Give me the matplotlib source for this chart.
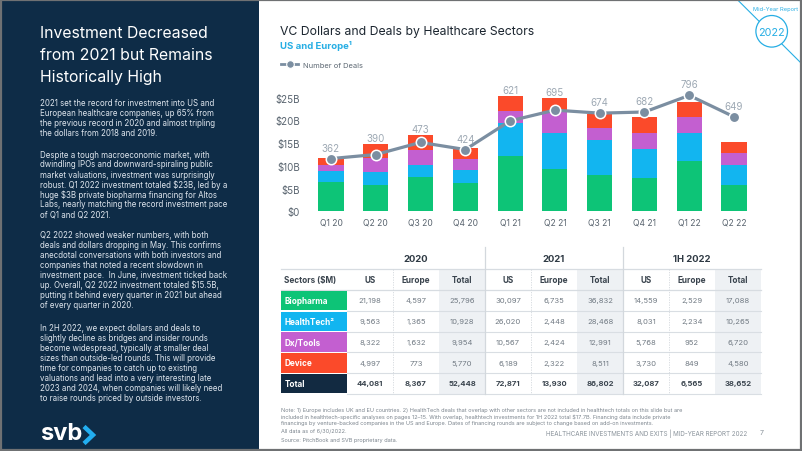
import matplotlib
matplotlib.use("Agg")
import matplotlib.pyplot as plt
from matplotlib.patches import Rectangle, Ellipse
from matplotlib.lines import Line2D

plt.rcParams['font.family'] = ['Inter', 'DejaVu Sans']

# ---------------- data ----------------
quarters = ["Q1 20", "Q2 20", "Q3 20", "Q4 20", "Q1 21", "Q2 21", "Q3 21", "Q4 21", "Q1 22", "Q2 22"]
biopharma = [6.5, 5.8, 7.5, 6.2, 12.2, 9.3, 8.0, 7.3, 11.1, 5.9]
healthtech = [2.4, 2.8, 2.8, 2.8, 7.3, 7.9, 7.6, 6.5, 6.1, 4.2]
dxtools = [1.4, 3.1, 3.2, 2.5, 2.7, 4.6, 2.8, 3.4, 3.6, 2.7]
device = [1.4, 3.1, 3.2, 2.4, 3.1, 3.1, 3.0, 3.5, 3.2, 2.5]
deals = [362, 390, 473, 424, 621, 695, 674, 682, 796, 649]
ytick_vals = [0, 5, 10, 15, 20, 25]
ytick_labels = ["$0", "$5B", "$10B", "$15B", "$20B", "$25B"]

sectors = ["Biopharma", "HealthTech²", "Dx/Tools", "Device", "Total"]
years = ["2020", "2021", "1H 2022"]
col_heads = ["US", "Europe", "Total"]
us_2020 = [21198, 9563, 8322, 4997, 44081]
eu_2020 = [4597, 1365, 1632, 773, 8367]
tot_2020 = [25796, 10928, 9954, 5770, 52448]
us_2021 = [30097, 26020, 10567, 6189, 72871]
eu_2021 = [6735, 2448, 2424, 2322, 13930]
tot_2021 = [36832, 28468, 12991, 8511, 86802]
us_1h22 = [14559, 8031, 5768, 3730, 32087]
eu_1h22 = [2529, 2234, 952, 849, 6565]
tot_1h22 = [17088, 10265, 6720, 4580, 38652]

# ---------------- style ----------------
C_BIO = "#0dc477"
C_HT = "#12b5f0"
C_DX = "#c35fd0"
C_DEV = "#fb4a2a"
C_NAVY = "#0e2c47"
C_TOTAL = "#122a41"
C_LINE = "#7b8ea1"
C_BLUE = "#27aee4"

W, H = 802, 452
fig = plt.figure(figsize=(W / 100, H / 100), dpi=100)
fig.patch.set_facecolor("white")


def fx(x):
    return x / W


def fy(y):
    return 1 - y / H


def rect(x0, y0, x1, y1, color, z=0, **kw):
    fig.patches.append(Rectangle((fx(x0), fy(y1)), fx(x1) - fx(x0), (y1 - y0) / H,
                                 transform=fig.transFigure, facecolor=color,
                                 edgecolor="none", zorder=z, **kw))


def hline(x0, x1, y, color, lw=0.6, ls="-", z=2):
    fig.add_artist(Line2D([fx(x0), fx(x1)], [fy(y), fy(y)], transform=fig.transFigure,
                          color=color, lw=lw, ls=ls, zorder=z))


def vline(x, y0, y1, color, lw=0.6, ls="-", z=2):
    fig.add_artist(Line2D([fx(x), fx(x)], [fy(y0), fy(y1)], transform=fig.transFigure,
                          color=color, lw=lw, ls=ls, zorder=z))


def txt(x, y, s, **kw):
    kw.setdefault("va", "center")
    fig.text(fx(x), fy(y), s, **kw)


# ---------------- left panel ----------------
rect(0, 0, 259, 451, C_NAVY, z=0)
for i, line in enumerate(["Investment Decreased", "from 2021 but Remains", "Historically High"]):
    txt(40, 34 + i * 22, line, color="white", fontsize=11.4)

paras = [
    ["2021 set the record for investment into US and",
     "European healthcare companies, up 65% from",
     "the previous record in 2020 and almost tripling",
     "the dollars from 2018 and 2019."],
    ["Despite a tough macroeconomic market, with",
     "dwindling IPOs and downward-spiraling public",
     "market valuations, investment was surprisingly",
     "robust. Q1 2022 investment totaled $23B, led by a",
     "huge $3B private biopharma financing for Altos",
     "Labs, nearly matching the record investment pace",
     "of Q1 and Q2 2021."],
    ["Q2 2022 showed weaker numbers, with both",
     "deals and dollars dropping in May. This confirms",
     "anecdotal conversations with both investors and",
     "companies that noted a recent slowdown in",
     "investment pace.  In June, investment ticked back",
     "up. Overall, Q2 2022 investment totaled $15.5B,",
     "putting it behind every quarter in 2021 but ahead",
     "of every quarter in 2020."],
    ["In 2H 2022, we expect dollars and deals to",
     "slightly decline as bridges and insider rounds",
     "become widespread, typically at smaller deal",
     "sizes than outside-led rounds. This will provide",
     "time for companies to catch up to existing",
     "valuations and lead into a very interesting late",
     "2023 and 2024, when companies will likely need",
     "to raise rounds priced by outside investors."],
]
para_starts = [103.5, 155, 235.7, 328.3]
for start, lines in zip(para_starts, paras):
    for j, line in enumerate(lines):
        txt(40.5, start + j * 10, line, color="#dfe6ee", fontsize=5.7)

txt(40, 434, "svb", color="white", fontsize=17, fontweight="bold")
fig.add_artist(Line2D([fx(84), fx(93), fx(84)], [fy(427.5), fy(436), fy(444.5)],
                      transform=fig.transFigure, color="#22aef0", lw=3.2,
                      solid_joinstyle="miter", solid_capstyle="butt", zorder=3))

# ---------------- badge ----------------
fig.add_artist(Line2D([fx(736.7), fx(802)], [fy(0), fy(65)], transform=fig.transFigure,
                      color=C_BLUE, lw=0.8, zorder=3))
fig.add_artist(Ellipse((fx(771.7), fy(32.3)), 31.6 / W, 31.6 / H, transform=fig.transFigure,
                       facecolor="white", edgecolor=C_BLUE, lw=0.9, zorder=4))
txt(771.7, 32.8, "2022", color=C_BLUE, fontsize=7.8, ha="center", zorder=5)
txt(776, 9.3, "Mid-Year Report", color=C_BLUE, fontsize=4.1, ha="center", zorder=5)

# ---------------- chart titles ----------------
txt(280.5, 32.5, "VC Dollars and Deals by Healthcare Sectors", color="#1c2630", fontsize=8.8)
txt(280.5, 46, "US and Europe¹", color=C_BLUE, fontsize=6.9, fontweight="bold")
fig.add_artist(Line2D([fx(281), fx(298)], [fy(65.3), fy(65.3)], transform=fig.transFigure,
                      color=C_LINE, lw=2.0, zorder=3))
fig.add_artist(Line2D([fx(289.5)], [fy(65.3)], transform=fig.transFigure, color=C_LINE,
                      marker="o", ms=5.5, mfc=C_LINE, mec="white", mew=0.8, zorder=4))
txt(303, 65.5, "Number of Deals", color="#5d6873", fontsize=5.4)

# ---------------- bar chart ----------------
px_per_b = 4.54
ymax = 27
ax = fig.add_axes([fx(308.6), fy(212.3), fx(756.4) - fx(308.6), ymax * px_per_b / H])
x = list(range(len(quarters)))
bw = 0.56
bottom = [0.0] * len(x)
for vals, col in [(biopharma, C_BIO), (healthtech, C_HT), (dxtools, C_DX), (device, C_DEV)]:
    ax.bar(x, vals, bw, bottom=bottom, color=col, linewidth=0, zorder=2)
    bottom = [b + v for b, v in zip(bottom, vals)]
ax.set_xlim(-0.5, len(x) - 0.5)
ax.set_ylim(0, ymax)
ax.set_yticks(ytick_vals)
ax.set_yticklabels(ytick_labels)
ax.set_xticks(x)
ax.set_xticklabels(quarters)
ax.tick_params(axis="y", length=0, pad=6.2, labelsize=7, labelcolor="#59646f")
ax.tick_params(axis="x", length=0, pad=4.6, labelsize=6.1, labelcolor="#59646f")
for s in ax.spines.values():
    s.set_visible(False)
ax.patch.set_alpha(0)

ratio = 31.18
ax2 = ax.twinx()
ax2.set_ylim(0, ymax * ratio)
ax2.plot(x, deals, color=C_LINE, lw=2.3, marker="o", ms=7.5, mfc=C_LINE, mec="white",
         mew=1.1, zorder=5, solid_capstyle="round")
ax2.axis("off")
for xi, d, tot in zip(x, deals, bottom):
    top = max(tot, d / ratio + 1.0)
    ax2.annotate(str(d), (xi, top * ratio), xytext=(0, 4.6), textcoords="offset points",
                 ha="center", va="center", fontsize=7, color="#9ea9b4")

# ---------------- table ----------------
col_left = 347
cw = 46
row_tops = [291, 312, 332.7, 353.3, 374]
row_h = 20.7
tab_left = 281
tab_right = col_left + 9 * cw
sector_colors = [C_BIO, C_HT, C_DX, C_DEV, C_TOTAL]
period_cols = [(us_2020, eu_2020, tot_2020), (us_2021, eu_2021, tot_2021), (us_1h22, eu_1h22, tot_1h22)]

# total-column shading
for p in range(3):
    x0 = col_left + (p * 3 + 2) * cw
    rect(x0, 270, x0 + cw, 394.7, "#eef1f4", z=1)

# year header
for p, yr in enumerate(years):
    cx = col_left + (p * 3 + 1.5) * cw
    txt(cx, 260, yr, ha="center", fontsize=6.8, fontweight="bold", color="#2f3a44")

hline(tab_left, tab_right, 270, "#d7dce1", lw=0.9)
txt(284.5, 280.7, "Sectors ($M)", fontsize=5.9, fontweight="bold", color="#3a444e")
for p in range(3):
    for c, h in enumerate(col_heads):
        cx = col_left + (p * 3 + c + 0.5) * cw
        txt(cx, 280.7, h, ha="center", fontsize=5.9, fontweight="bold", color="#3a444e")
hline(tab_left, tab_right, 291, "#d7dce1", lw=0.9)

for r, name in enumerate(sectors):
    y0 = row_tops[r]
    rect(tab_left, y0 + 0.6, col_left, y0 + row_h - 0.4, sector_colors[r], z=2)
    txt(284.5, y0 + row_h / 2, name, fontsize=5.9, fontweight="bold", color="white", zorder=3)
    for p, cols in enumerate(period_cols):
        for c, vals in enumerate(cols):
            cx = col_left + (p * 3 + c + 0.5) * cw
            bold = r == 4
            txt(cx, y0 + row_h / 2, f"{vals[r]:,}", ha="center", fontsize=5.5,
                fontweight="bold" if bold else "normal",
                color="#3a444e" if bold else "#737c85", zorder=3)
    hline(col_left, tab_right, y0 + row_h, "#d9dee3", lw=0.8)

# vertical separators
for p in range(3):
    vline(col_left + (p * 3 + 1) * cw, 270, 394.7, "#d3d8dd", lw=0.6, ls=(0, (1.5, 1.5)))
for p in (1, 2):
    vline(col_left + p * 3 * cw, 248, 394.7, "#d3d8dd", lw=0.9)

# ---------------- footer ----------------
notes = ["Note: 1) Europe includes UK and EU countries. 2) HealthTech deals that overlap with other sectors are not included in healthtech totals on this slide but are",
         "included in healthtech-specific analyses on pages 12–15. With overlap, healthtech investments for 1H 2022 total $17.7B. Financing data include private",
         "financings by venture-backed companies in the US and Europe. Dates of financing rounds are subject to change based on add-on investments."]
for i, n in enumerate(notes):
    txt(280.7, 411 + i * 6.5, n, fontsize=4.0, color="#7d868f")
txt(280.7, 432, "All data as of 6/30/2022.", fontsize=4.0, color="#7d868f")
txt(280.7, 440.3, "Source: PitchBook and SVB proprietary data.", fontsize=4.0, color="#7d868f")
txt(747, 433.3, "HEALTHCARE INVESTMENTS AND EXITS | MID-YEAR REPORT 2022", fontsize=4.5,
    color="#8a939b", ha="right")
txt(762, 433.3, "7", fontsize=5.0, color="#8a939b", ha="center")

# frame
fig.patches.append(Rectangle((fx(0.5), fy(450.5)), fx(800.5), 450 / H, transform=fig.transFigure,
                             facecolor="none", edgecolor="#6f7173", lw=1.6, zorder=10))

fig.savefig("out.png", dpi=100)
